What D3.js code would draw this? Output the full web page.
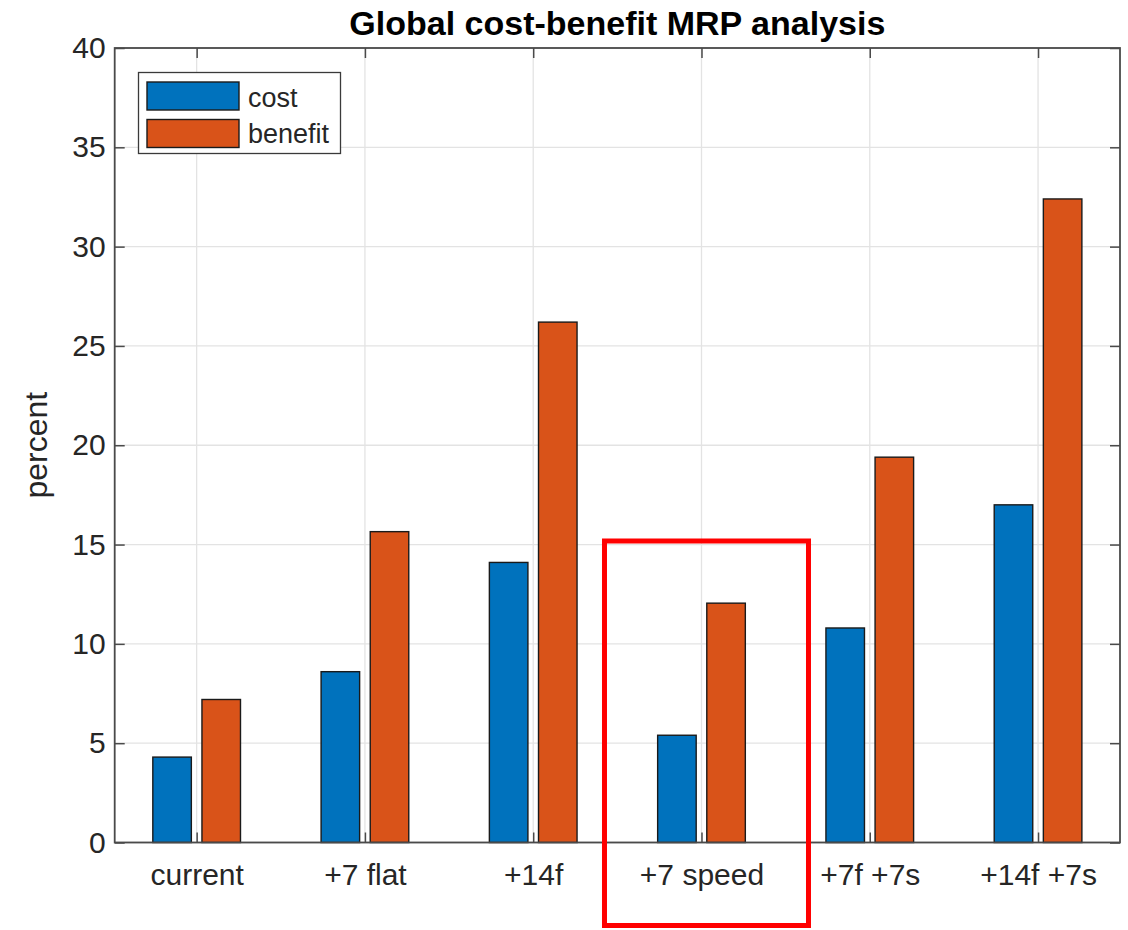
<!DOCTYPE html>
<html>
<head>
<meta charset="utf-8">
<script src="https://cdn.jsdelivr.net/npm/d3@7"></script>
<style>
  body { margin: 0; background: #fff; }
  svg { display: block; }
  text { font-family: "Liberation Sans", Arial, sans-serif; }
</style>
</head>
<body>
<svg id="chart" width="1128" height="930"></svg>
<script>
const categories = ["current", "+7 flat", "+14f", "+7 speed", "+7f +7s", "+14f +7s"];
const costValues = [4.3, 8.6, 14.1, 5.4, 10.8, 17.0];
const benefitValues = [7.2, 15.65, 26.2, 12.05, 19.4, 32.4];
const seriesNames = ["cost", "benefit"];
const seriesColors = ["#0072BD", "#D95319"];
const yTicks = [0, 5, 10, 15, 20, 25, 30, 35, 40];
const highlightCategory = "+7 speed";

const svg = d3.select("#chart");
const L = 114.7, R = 1120, T = 48, B = 842.5;
const axisColor = "#4a4a4a";
const textColor = "#262626";

const x = d3.scaleLinear().domain([1 - 0.487, categories.length + 0.487]).range([L, R]);
const y = d3.scaleLinear().domain([0, 40]).range([B, T]);
const step = x(2) - x(1);
const barW = 0.229 * step;
const off = 0.146 * step;

// grid
const g = svg.append("g");
g.selectAll(".gx").data(categories).enter().append("line")
  .attr("x1", (d, i) => x(i + 1)).attr("x2", (d, i) => x(i + 1))
  .attr("y1", T).attr("y2", B).attr("stroke", "#e3e3e3").attr("stroke-width", 1.3);
g.selectAll(".gy").data(yTicks).enter().append("line")
  .attr("x1", L).attr("x2", R).attr("y1", d => y(d)).attr("y2", d => y(d))
  .attr("stroke", "#e3e3e3").attr("stroke-width", 1.3);

// bars
const series = [costValues, benefitValues];
series.forEach((vals, s) => {
  svg.append("g").selectAll("rect").data(vals).enter().append("rect")
    .attr("x", (d, i) => x(i + 1) + (s === 0 ? -off : off) - barW / 2)
    .attr("width", barW)
    .attr("y", d => y(d))
    .attr("height", d => y(0) - y(d))
    .attr("fill", seriesColors[s])
    .attr("stroke", "#1a1a1a").attr("stroke-width", 1.4);
});

// axes (box with inward ticks)
const axB = d3.axisBottom(x).tickValues(d3.range(1, categories.length + 1))
  .tickFormat((d) => categories[d - 1]).tickSizeInner(-10).tickSizeOuter(0).tickPadding(21);
const axT = d3.axisTop(x).tickValues(d3.range(1, categories.length + 1))
  .tickFormat("").tickSizeInner(-10).tickSizeOuter(0);
const axL = d3.axisLeft(y).tickValues(yTicks).tickSizeInner(-10).tickSizeOuter(0).tickPadding(9);
const axR = d3.axisRight(y).tickValues(yTicks).tickFormat("").tickSizeInner(-10).tickSizeOuter(0);

function style(sel) {
  sel.select(".domain").remove();
  sel.selectAll("line").attr("stroke", axisColor).attr("stroke-width", 1.5);
  sel.selectAll("text").attr("fill", textColor).style("font-size", "30px")
    .style("font-family", "'Liberation Sans', Arial, sans-serif");
}
svg.append("g").attr("transform", `translate(0,${B})`).call(axB).call(style);
svg.append("g").attr("transform", `translate(0,${T})`).call(axT).call(style);
svg.append("g").attr("transform", `translate(${L},0)`).call(axL).call(style);
svg.append("g").attr("transform", `translate(${R},0)`).call(axR).call(style);

svg.append("rect").attr("x", L).attr("y", T).attr("width", R - L).attr("height", B - T)
  .attr("fill", "none").attr("stroke", axisColor).attr("stroke-width", 1.8);

// title
svg.append("text").attr("x", (L + R) / 2).attr("y", 35).attr("text-anchor", "middle")
  .attr("font-weight", "bold").style("font-size", "34px").attr("fill", "#000")
  .text("Global cost-benefit MRP analysis");

// y label
svg.append("text").attr("transform", `translate(47,${(T + B) / 2}) rotate(-90)`)
  .attr("text-anchor", "middle").style("font-size", "32px").attr("fill", textColor)
  .text("percent");

// legend
const lg = svg.append("g");
lg.append("rect").attr("x", 138.5).attr("y", 72.5).attr("width", 202).attr("height", 81)
  .attr("fill", "#fff").attr("stroke", "#3a3a3a").attr("stroke-width", 1.3);
seriesNames.forEach((n, i) => {
  lg.append("rect").attr("x", 147).attr("y", 82 + i * 37.5).attr("width", 92).attr("height", 28)
    .attr("fill", seriesColors[i]).attr("stroke", "#1a1a1a").attr("stroke-width", 1.4);
  lg.append("text").attr("x", 248).attr("y", 106.5 + i * 36.7).style("font-size", "27px")
    .attr("fill", textColor).text(n);
});

// highlight box
const hi = categories.indexOf(highlightCategory) + 1;
svg.append("rect").attr("x", x(hi) - 97).attr("y", 541).attr("width", 204).attr("height", 384.5)
  .attr("fill", "none").attr("stroke", "#ff0000").attr("stroke-width", 5);
</script>
</body>
</html>
